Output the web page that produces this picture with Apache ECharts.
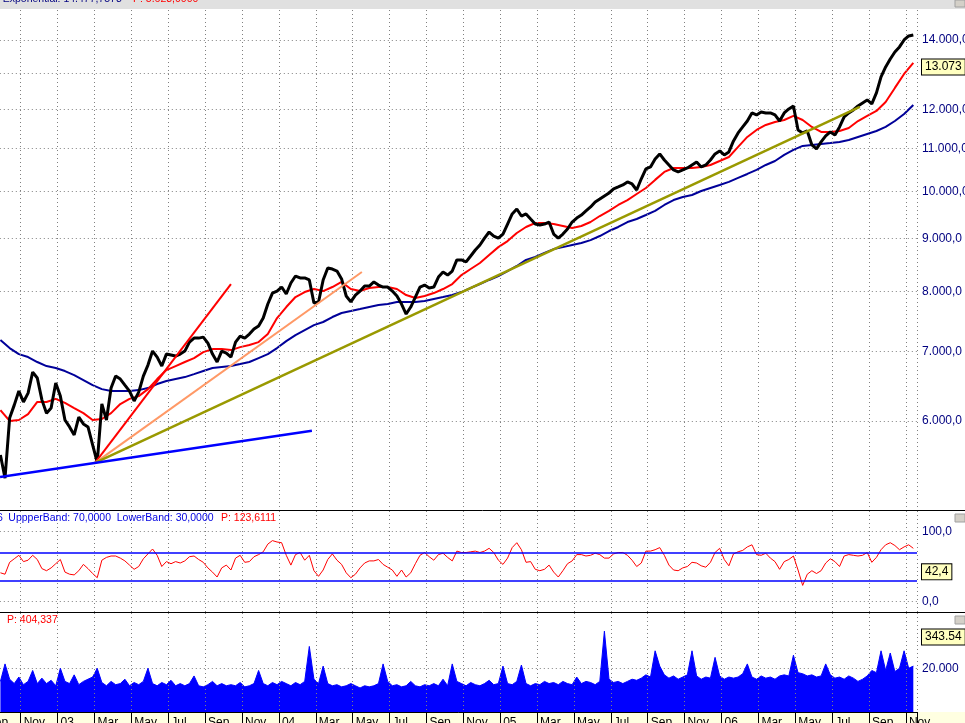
<!DOCTYPE html>
<html>
<head>
<meta charset="utf-8">
<title>Index chart</title>
<script src="https://cdn.jsdelivr.net/npm/echarts@6.0.0/dist/echarts.min.js"></script>
<style>
html, body { margin: 0; padding: 0; background: #fff; }
#main { width: 965px; height: 723px; }
</style>
</head>
<body>
<div id="main"></div>
<script>
// x values are months counted from 1 Sep 2002
var monthNames = ['Jan', 'Feb', 'Mar', 'Apr', 'May', 'Jun', 'Jul', 'Aug', 'Sep', 'Oct', 'Nov', 'Dec'];
var firstSample = 0.9;
var priceStep = 0.25;
var emaStep = 0.5;

var closePrice = [
	5561, 5280, 6037, 6213, 6410, 6257, 6381, 6687, 6600, 6286,
	6103, 6172, 6525, 6339, 6011, 5919, 5814, 6049, 5958, 5919,
	5686, 5470, 6230, 6011, 6453, 6628, 6584, 6496, 6410, 6271,
	6396, 6628, 6792, 7007, 6914, 6777, 6960, 6945, 6930, 6960,
	7007, 7148, 7212, 7212, 7228, 7133, 6960, 6838, 7007, 6976,
	6914, 7148, 7245, 7212, 7277, 7358, 7408, 7541, 7780, 7972,
	8008, 8080, 7955, 8153, 8280, 8244, 8244, 8208, 7798, 7816,
	8208, 8428, 8410, 8373, 8226, 7920, 7816, 7937, 8008, 8098,
	8098, 8171, 8116, 8080, 8080, 8008, 7920, 7780, 7609, 7728,
	7902, 8080, 8116, 8062, 8080, 8262, 8354, 8298, 8373, 8582,
	8582, 8544, 8657, 8773, 8872, 9010, 9132, 9051, 9010, 9091,
	9296, 9506, 9612, 9463, 9506, 9400, 9296, 9276, 9296, 9337,
	9091, 9010, 9091, 9193, 9337, 9421, 9484, 9570, 9655, 9762,
	9827, 9894, 9960, 10050, 10094, 10139, 10209, 10162, 10027, 10280,
	10507, 10554, 10741, 10864, 10718, 10601, 10484, 10438, 10484, 10530,
	10601, 10671, 10554, 10601, 10718, 10864, 10937, 10840, 10913, 11183,
	11384, 11537, 11690, 11902, 11849, 11928, 11902, 11902, 11849, 11690,
	11902, 12008, 12089, 11460, 11384, 11434, 11084, 10985, 11158, 11308,
	11409, 11333, 11537, 11796, 11902, 11981, 12089, 12170, 12250, 12143,
	12443, 12896, 13184, 13420, 13631, 13784, 14000, 14125, 14156
];

var emaFast = [
	6144, 5998, 6011, 6090, 6257, 6257, 6300, 6243, 6172, 6103,
	6011, 6024, 6103, 6228, 6300, 6339, 6438, 6584, 6717, 6777,
	6838, 6899, 6991, 7038, 7038, 7022, 7069, 7101, 7148, 7277,
	7541, 7728, 7902, 7990, 8044, 8008, 8080, 8171, 8044, 8008,
	8062, 8080, 8080, 8044, 7937, 7885, 7920, 7972, 8044, 8134,
	8298, 8410, 8523, 8676, 8830, 8950, 9112, 9235, 9317, 9317,
	9296, 9255, 9214, 9255, 9337, 9463, 9570, 9698, 9805, 9938,
	10072, 10255, 10438, 10530, 10530, 10530, 10554, 10601, 10695, 10791,
	11035, 11283, 11460, 11588, 11664, 11716, 11823, 11716, 11537, 11409,
	11409, 11434, 11511, 11690, 11823, 11955, 12196, 12583, 12981, 13303
];

var emaSlow = [
	7180, 7054, 6960, 6914, 6838, 6777, 6747, 6702, 6642, 6570,
	6496, 6438, 6410, 6410, 6410, 6424, 6453, 6511, 6555, 6584,
	6613, 6657, 6702, 6747, 6762, 6777, 6807, 6838, 6899, 6960,
	7054, 7164, 7261, 7342, 7424, 7475, 7558, 7626, 7659, 7693,
	7728, 7762, 7780, 7816, 7816, 7816, 7833, 7868, 7902, 7937,
	7990, 8062, 8134, 8208, 8280, 8373, 8467, 8582, 8638, 8715,
	8792, 8830, 8872, 8910, 8968, 9051, 9152, 9235, 9337, 9400,
	9484, 9570, 9698, 9805, 9872, 9916, 10005, 10072, 10139, 10209,
	10300, 10391, 10484, 10601, 10695, 10840, 10961, 11059, 11084, 11109,
	11133, 11158, 11208, 11283, 11358, 11434, 11537, 11690, 11875, 12116
];

var rsiValues = [
	41, 39, 56, 61, 66, 57, 59, 66, 60, 47,
	44, 48, 54, 60, 42, 39, 38, 44, 53, 47,
	40, 34, 59, 63, 65, 65, 62, 58, 52, 46,
	50, 61, 68, 75, 66, 50, 57, 54, 57, 55,
	58, 64, 65, 60, 56, 48, 42, 35, 48, 52,
	45, 62, 66, 56, 57, 64, 67, 71, 82, 87,
	85, 84, 66, 52, 67, 70, 59, 66, 44, 36,
	45, 60, 68, 59, 53, 41, 34, 39, 48, 55,
	58, 58, 60, 53, 49, 45, 36, 45, 35, 41,
	54, 66, 70, 64, 59, 67, 69, 63, 58, 72,
	70, 70, 71, 72, 70, 72, 76, 70, 59, 53,
	62, 77, 84, 74, 56, 57, 46, 44, 46, 52,
	42, 35, 44, 54, 58, 67, 67, 65, 66, 69,
	67, 62, 62, 68, 70, 70, 66, 59, 50, 55,
	72, 72, 74, 77, 66, 52, 45, 44, 48, 50,
	56, 55, 51, 49, 56, 70, 76, 60, 51, 68,
	71, 73, 78, 81, 67, 66, 69, 62, 57, 46,
	57, 60, 65, 45, 23, 39, 44, 40, 44, 55,
	61, 57, 50, 65, 67, 66, 65, 66, 70, 56,
	63, 74, 81, 84, 80, 74, 78, 81, 76
];

var volumeValues = [
	14000, 22000, 15000, 13000, 16000, 12500, 14000, 19000, 13000, 15500,
	13000, 14500, 12000, 20000, 14000, 13000, 17000, 12500, 14000, 15000,
	16000, 20000, 13500, 12000, 14000, 12500, 13000, 15000, 12000, 13500,
	12500, 14000, 20000, 13000, 12000, 13500, 12500, 14500, 12000, 13000,
	12000, 13000, 16500, 12000, 11500, 12500, 14000, 12000, 13000, 12000,
	12500, 12000, 13500, 11500, 12000, 13000, 19000, 13000, 12000, 13500,
	12500, 14000, 13000, 12000, 13500, 12500, 14000, 30000, 15000, 13000,
	21000, 13000, 12000, 12500, 11500, 12000, 13000, 12000, 11000, 12000,
	11500, 12000, 13000, 22000, 14000, 12000, 12500, 11500, 12000, 14000,
	12000, 11500, 12500, 12000, 13000, 12000, 15000, 12000, 22000, 14000,
	13000, 12000, 13500, 12500, 12000, 13000, 14500, 12500, 13000, 21000,
	13000, 12500, 14000, 21500, 13000, 12000, 13000, 12500, 14000, 13000,
	13500, 12500, 14000, 13000, 12500, 16000, 13000, 14000, 13500, 12500,
	14000, 37000, 15000, 13500, 14000, 13000, 14000, 15000, 14500, 15500,
	17000, 16000, 28000, 21000, 17000, 15500, 16500, 15000, 16000, 17000,
	28000, 16500, 15000, 16000, 15500, 25000, 16500, 15000, 16000, 15500,
	16000, 17500, 22000, 16000, 15000, 16500, 15500, 16000, 15000, 16500,
	17000, 16500, 26000, 18000, 17500, 16500, 17000, 16000, 16500, 22000,
	17000, 15500, 16000, 15000, 16500, 15500, 14000, 15000, 16500, 19000,
	18000, 28000, 19000, 27000, 18500, 20000, 28000, 20000, 21000
];

var priceLevels = [6000, 7000, 8000, 9000, 10000, 11000, 12000, 13000, 14000];
var rsiLevels = [0, 100];
var rsiBands = [30, 70];
var volumeLevels = [20000];

// drawn trend lines: [month, price]
var fanOrigin = [6.03, 5464];
var fanTargets = [[13.40, 8134], [20.50, 8354], [47.50, 12063]];
var supportLine = [[0.88, 5295], [17.79, 5870]];

var priceTag = 13073;
var rsiTag = 42.4;
var volumeTag = '343.54';
var volumeTagValue = 34354;

function lg(v) { return Math.log10(v); }
function toSeries(values, step, fn) {
	return values.map(function(v, i) {
		return [firstSample + i * step, fn ? fn(v) : v];
	});
}
function thousands(n) {
	return String(Math.round(n)).replace(/\B(?=(\d{3})+(?!\d))/g, '.');
}
function monthLabel(v) {
	if (Math.abs(v - Math.round(v)) > 1e-6) return '';
	var m = Math.round(v) + 8;
	var idx = m % 12;
	if (idx === 0) return String(2002 + m / 12).slice(2);
	return monthNames[idx];
}

var dotted = { color: '#808080', width: 1, type: [1, 3] };
var font = 'Liberation Sans, Arial, sans-serif';
var hiddenLine = { color: 'rgba(0,0,0,0)', width: 1 };
var tagLabel = {
	show: true, position: 'end', distance: 5, color: '#000', fontSize: 12, fontFamily: font,
	backgroundColor: '#FFFFC0', borderColor: '#000', borderWidth: 1, padding: [2, 3, 1, 3]
};

function xAxisFor(idx, withLabels) {
	return {
		type: 'value', gridIndex: idx, min: 0, max: 50.6, interval: 2, z: 3,
		axisLine: { show: withLabels, lineStyle: { color: '#000', width: 1 } },
		axisTick: { show: withLabels, length: 11, lineStyle: { color: '#000' } },
		axisLabel: {
			show: withLabels, formatter: monthLabel, align: 'left', margin: 5,
			padding: [0, 0, 0, 3], color: '#000', fontSize: 12, fontFamily: font
		},
		splitLine: { show: true, lineStyle: dotted }
	};
}
function yAxisFor(idx, min, max, ticks, fmt) {
	return {
		type: 'value', gridIndex: idx, position: 'right', min: min, max: max,
		axisLine: { show: true, lineStyle: { color: '#000', width: 1 } },
		axisTick: { show: true, length: 4, customValues: ticks, lineStyle: { color: '#000' } },
		axisLabel: { customValues: ticks, formatter: fmt, color: '#000080', fontSize: 12, fontFamily: font, margin: 5 },
		splitLine: { show: true, lineStyle: dotted }
	};
}
function headText(x, y, text, color) {
	return { type: 'text', z: 11, x: x, y: y, style: { text: text, fill: color, font: '10.5px ' + font, verticalAlign: 'middle' } };
}

var myChart = echarts.init(document.getElementById('main'));
var option = {
	backgroundColor: '#fff',
	animation: false,
	grid: [
		{ left: -16.19, right: 48, top: 10, height: 500, outerBoundsMode: 'none' },
		{ left: -16.19, right: 48, top: 511, height: 101, outerBoundsMode: 'none' },
		{ left: -16.19, right: 48, top: 613, height: 99, outerBoundsMode: 'none' }
	],
	xAxis: [xAxisFor(0, false), xAxisFor(1, false), xAxisFor(2, true)],
	yAxis: [
		yAxisFor(0, lg(4920), lg(14965), priceLevels.map(lg), function(v) {
			var p = Math.pow(10, v);
			// the last-value tag sits over this level's label
			if (Math.abs(p - priceTag) / priceTag < 0.01) return '';
			return thousands(p) + ',0';
		}),
		yAxisFor(1, -15, 129.3, rsiLevels, function(v) {
			return v.toFixed(1).replace('.', ',');
		}),
		yAxisFor(2, 0, 45300, volumeLevels, function(v) {
			return thousands(v);
		})
	],
	series: [{
		name: 'EMA slow', type: 'line', xAxisIndex: 0, yAxisIndex: 0,
		data: toSeries(emaSlow, emaStep, lg), symbol: 'none',
		lineStyle: { color: '#000099', width: 2 }, z: 2
	}, {
		name: 'EMA fast', type: 'line', xAxisIndex: 0, yAxisIndex: 0,
		data: toSeries(emaFast, emaStep, lg), symbol: 'none',
		lineStyle: { color: '#FF0000', width: 2 }, z: 2
	}, {
		name: 'Close', type: 'line', xAxisIndex: 0, yAxisIndex: 0,
		data: toSeries(closePrice, priceStep, lg), symbol: 'none',
		lineStyle: { color: '#000', width: 3 }, z: 3,
		markLine: {
			silent: true, symbol: 'none', lineStyle: hiddenLine,
			label: Object.assign({}, tagLabel, { formatter: thousands(priceTag) }),
			data: [{ yAxis: lg(priceTag) }]
		}
	}, {
		name: 'Fan 1', type: 'line', xAxisIndex: 0, yAxisIndex: 0, symbol: 'none', z: 4,
		data: [[fanOrigin[0], lg(fanOrigin[1])], [fanTargets[0][0], lg(fanTargets[0][1])]],
		lineStyle: { color: '#FF0000', width: 2 }
	}, {
		name: 'Fan 2', type: 'line', xAxisIndex: 0, yAxisIndex: 0, symbol: 'none', z: 4,
		data: [[fanOrigin[0], lg(fanOrigin[1])], [fanTargets[1][0], lg(fanTargets[1][1])]],
		lineStyle: { color: '#FF9966', width: 2 }
	}, {
		name: 'Fan 3', type: 'line', xAxisIndex: 0, yAxisIndex: 0, symbol: 'none', z: 4,
		data: [[fanOrigin[0], lg(fanOrigin[1])], [fanTargets[2][0], lg(fanTargets[2][1])]],
		lineStyle: { color: '#999900', width: 2.5 }
	}, {
		name: 'Support', type: 'line', xAxisIndex: 0, yAxisIndex: 0, symbol: 'none', z: 4,
		data: supportLine.map(function(p) { return [p[0], lg(p[1])]; }),
		lineStyle: { color: '#0000FF', width: 2.5 }
	}, {
		name: 'RSI', type: 'line', xAxisIndex: 1, yAxisIndex: 1,
		data: toSeries(rsiValues, priceStep), symbol: 'none',
		lineStyle: { color: '#FF0000', width: 1 }, z: 3,
		markLine: {
			silent: true, symbol: 'none', label: { show: false },
			lineStyle: { color: '#0000FF', width: 1.5, type: 'solid' },
			data: rsiBands.map(function(b) { return { yAxis: b }; }).concat([{
				yAxis: rsiTag, lineStyle: hiddenLine,
				label: Object.assign({}, tagLabel, { formatter: String(rsiTag).replace('.', ',') })
			}])
		}
	}, {
		name: 'Volume', type: 'line', xAxisIndex: 2, yAxisIndex: 2,
		data: toSeries(volumeValues, priceStep), symbol: 'none',
		lineStyle: { color: '#0000FF', width: 1 },
		areaStyle: { color: '#0000FF', opacity: 1 }, z: 2,
		markLine: {
			silent: true, symbol: 'none', lineStyle: hiddenLine,
			label: Object.assign({}, tagLabel, { formatter: volumeTag }),
			data: [{ yAxis: volumeTagValue }]
		}
	}],
	graphic: [
		{ type: 'rect', z: 10, shape: { x: 0, y: 0, width: 965, height: 9 }, style: { fill: '#E0E0E0' } },
		headText(2.7, -1, 'Exponential: 14.477,7578', '#000080'),
		headText(133, -1, 'P: 5.628,0000', '#FF0000'),
		{ type: 'rect', z: -1, shape: { x: 0, y: 712, width: 965, height: 11 }, style: { fill: '#FFFFE1' } },
		{ type: 'line', z: 10, shape: { x1: 0, y1: 510.5, x2: 965, y2: 510.5 }, style: { stroke: '#000', lineWidth: 1 } },
		{ type: 'line', z: 10, shape: { x1: 0, y1: 612.5, x2: 965, y2: 612.5 }, style: { stroke: '#000', lineWidth: 1 } },
		headText(-3, 517.7, '6', '#0000E0'),
		headText(8.3, 517.7, 'UppperBand: 70,0000', '#0000E0'),
		headText(116.7, 517.7, 'LowerBand: 30,0000', '#0000E0'),
		headText(221, 517.7, 'P: 123,6111', '#FF0000'),
		headText(7, 620, 'P: 404,337', '#FF0000'),
		{ type: 'rect', z: 11, shape: { x: 955, y: 0, width: 10, height: 7 }, style: { fill: '#D4D0C8', stroke: '#A0A0A0' } },
		{ type: 'rect', z: 11, shape: { x: 955, y: 514, width: 10, height: 8 }, style: { fill: '#D4D0C8', stroke: '#A0A0A0' } },
		{ type: 'rect', z: 11, shape: { x: 955, y: 616, width: 10, height: 8 }, style: { fill: '#D4D0C8', stroke: '#A0A0A0' } }
	]
};
myChart.setOption(option);
window.onresize = function() {
	myChart.resize();
};
</script>
</body>
</html>
